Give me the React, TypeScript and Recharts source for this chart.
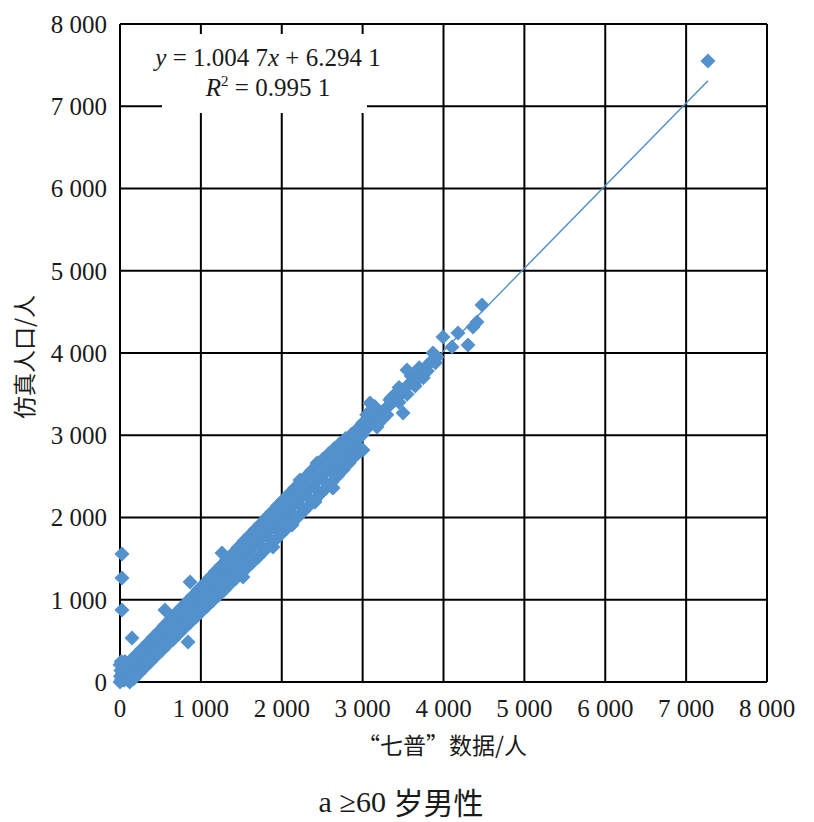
import React from 'react';
import { ScatterChart, Scatter, XAxis, YAxis, CartesianGrid } from 'recharts';

const axisTicks = [0, 1000, 2000, 3000, 4000, 5000, 6000, 7000, 8000];
const tickLabels = ['0', '1 000', '2 000', '3 000', '4 000', '5 000', '6 000', '7 000', '8 000'];

const slope = 1.0047;
const intercept = 6.2941;
const trendRange = [0, 7270];

const nearZero: [number, number][] = [
  [0, 0], [5, 70], [10, 140], [0, 210], [20, 30], [30, 100], [40, 180], [50, 20], [60, 120],
  [75, 60], [90, 150], [100, 30], [15, 250], [35, 220], [110, 90], [130, 40], [150, 170], [60, 250],
];

const centerBand: [number, number][] = [
  [150, 155], [200, 205], [250, 250], [300, 310], [350, 350], [400, 405], [450, 455], [500, 505],
  [550, 550], [600, 610], [650, 655], [700, 700], [750, 760], [800, 805], [850, 850], [900, 910],
  [950, 955], [1000, 1005], [1050, 1055], [1100, 1110], [1150, 1155], [1200, 1205], [1250, 1260],
  [1300, 1305], [1350, 1355], [1400, 1410], [1450, 1455], [1500, 1510], [1550, 1555], [1600, 1605],
  [1650, 1660], [1700, 1710], [1750, 1755], [1800, 1810], [1850, 1855], [1900, 1905], [1950, 1960],
  [2000, 2010], [2050, 2055], [2100, 2110], [2150, 2160], [2200, 2210], [2250, 2255], [2300, 2310],
  [2350, 2360], [2400, 2410], [2450, 2455], [2500, 2510], [2550, 2560], [2600, 2610], [2650, 2655],
  [2700, 2710], [2750, 2760], [2800, 2810], [2850, 2860], [2900, 2910], [2950, 2960], [3000, 3010],
];

const upperBand: [number, number][] = [
  [60, 190], [130, 260], [200, 330], [270, 400], [340, 470], [410, 545], [480, 615], [550, 690],
  [620, 760], [690, 835], [760, 905], [830, 980], [900, 1050], [970, 1125], [1040, 1195],
  [1110, 1270], [1180, 1345], [1250, 1415], [1320, 1490], [1390, 1560], [1460, 1635], [1530, 1710],
  [1600, 1780], [1670, 1855], [1740, 1925], [1810, 2000], [1880, 2070], [1950, 2145], [2020, 2215],
  [2090, 2285], [2160, 2360], [2230, 2430], [2300, 2500], [2370, 2570], [2440, 2640], [2510, 2710],
  [2580, 2775], [2650, 2840], [2720, 2900], [2790, 2960], [2860, 3010], [2930, 3070],
];

const lowerBand: [number, number][] = [
  [120, 0], [170, 40], [240, 110], [310, 180], [380, 250], [450, 320], [520, 385], [590, 455],
  [660, 520], [730, 590], [800, 660], [870, 725], [940, 790], [1010, 860], [1080, 925], [1150, 990],
  [1220, 1055], [1290, 1120], [1360, 1190], [1430, 1255], [1500, 1320], [1570, 1390], [1640, 1455],
  [1710, 1520], [1780, 1590], [1850, 1660], [1920, 1725], [1990, 1795], [2060, 1865], [2130, 1935],
  [2200, 2005], [2270, 2075], [2340, 2145], [2410, 2215], [2480, 2290], [2550, 2360], [2620, 2430],
  [2690, 2505], [2760, 2580], [2830, 2660], [2900, 2740], [2970, 2820],
];

const upperMid: [number, number][] = [
  [300, 370], [400, 470], [500, 575], [600, 675], [700, 775], [800, 880],
  [900, 990], [1000, 1090], [1100, 1195], [1200, 1295], [1300, 1400], [1400, 1500], [1500, 1600],
  [1600, 1700], [1700, 1800], [1800, 1905], [1900, 2005], [2000, 2105], [2100, 2205], [2200, 2300],
  [2300, 2400], [2400, 2505], [2500, 2605], [2600, 2700], [2700, 2790], [2800, 2890],
];

const lowerMid: [number, number][] = [
  [350, 285], [450, 385], [550, 480], [650, 580], [750, 675], [850, 770],
  [950, 880], [1050, 975], [1150, 1070], [1250, 1165], [1350, 1260], [1450, 1355], [1550, 1450],
  [1650, 1545], [1750, 1640], [1850, 1740], [1950, 1835], [2050, 1930], [2150, 2030], [2250, 2125],
  [2350, 2225], [2450, 2320], [2550, 2420], [2650, 2520], [2750, 2620], [2850, 2720],
];

const edgeBumps: [number, number][] = [
  [1261, 1568], [2226, 2456], [2436, 2663], [2634, 2359], [2411, 2188], [2127, 1909], [1892, 1641],
  [1521, 1277], [2621, 2371], [2757, 2663], [2683, 2857],
];

const upperSegment: [number, number][] = [
  [3050, 3080], [3100, 3150], [3150, 3180], [3200, 3230], [3250, 3290], [3300, 3340], [3350, 3380],
  [3400, 3430], [3450, 3480], [3500, 3530], [3550, 3600], [3600, 3640], [3650, 3690], [3700, 3760],
  [3750, 3790], [3800, 3850], [3850, 3900],
  [3000, 3150], [3050, 3250], [3100, 3300], [3150, 3350], [3200, 3150], [3250, 3200], [3300, 3250],
  [3350, 3450], [3400, 3500], [3450, 3400], [3450, 3580], [3550, 3500], [3600, 3720], [3650, 3600],
  [3750, 3700], [3800, 3780], [3900, 3880], [3700, 3820],
  [3004, 2821], [3091, 3392], [3128, 3307], [3004, 3064], [2844, 2979], [3178, 3100], [3338, 3428],
  [3500, 3270], [3487, 3550], [3549, 3793], [3709, 3708], [3870, 4000], [3920, 3951], [3994, 4195],
  [4105, 4073], [4179, 4243], [4303, 4097], [4365, 4316], [4414, 4377], [4476, 4584],
];

const isolated: [number, number][] = [
  [25, 1556], [25, 1265], [25, 875], [148, 535], [556, 875], [866, 1216], [841, 486], [7270, 7550],
];

const allPoints = [
  ...nearZero, ...lowerBand, ...centerBand, ...upperBand, ...upperMid, ...lowerMid,
  ...edgeBumps, ...upperSegment, ...isolated,
].map(([x, y]) => ({ x, y }));

const trendPoints = trendRange.map((x) => ({ x, y: slope * x + intercept }));

const BLUE = '#5391cd';
const SERIF = 'Liberation Serif, Times New Roman, serif';
const CJK = 'Noto Sans CJK SC, Noto Sans, sans-serif';

const Diamond = (props: any) => {
  const { cx, cy } = props;
  if (cx == null || cy == null) return <g />;
  const r = 7.5;
  return <polygon points={`${cx},${cy - r} ${cx + r},${cy} ${cx},${cy + r} ${cx - r},${cy}`} fill={BLUE} />;
};

const fmt = (v: number) => tickLabels[axisTicks.indexOf(v)] ?? String(v);

const XTick = (props: any) => {
  const { x, y, payload } = props;
  return (
    <text x={x} y={y} dy="0.71em" textAnchor="middle" style={{ fontFamily: SERIF }} fontSize={25} fill="#1a1a1a">
      {fmt(payload.value)}
    </text>
  );
};

const YTick = (props: any) => {
  const { x, y, payload } = props;
  return (
    <text x={x} y={y} dy="0.35em" textAnchor="end" style={{ fontFamily: SERIF }} fontSize={25} fill="#1a1a1a">
      {fmt(payload.value)}
    </text>
  );
};

export default function App() {
  return (
    <div style={{ position: 'absolute', left: 0, top: 0, width: 814, height: 822, background: '#fff' }}>
      <ScatterChart width={814} height={822} margin={{ top: 24, right: 47, bottom: 110, left: 60 }}>
        <CartesianGrid stroke="#000" strokeWidth={2} />
        <XAxis
          type="number"
          dataKey="x"
          domain={[0, 8000]}
          ticks={axisTicks}
          interval={0}
          height={30}
          tickLine={false}
          tickSize={0}
          tickMargin={17}
          axisLine={{ stroke: '#000', strokeWidth: 2 }}
          tick={<XTick />}
        />
        <YAxis
          type="number"
          dataKey="y"
          domain={[0, 8000]}
          ticks={axisTicks}
          interval={0}
          width={60}
          tickLine={false}
          tickSize={0}
          tickMargin={13}
          axisLine={{ stroke: '#000', strokeWidth: 2 }}
          tick={<YTick />}
        />
        <Scatter data={allPoints} shape={<Diamond />} isAnimationActive={false} />
        <Scatter
          data={trendPoints}
          line={{ stroke: BLUE, strokeWidth: 1.5 }}
          lineType="joint"
          shape={() => <g />}
          isAnimationActive={false}
        />
      </ScatterChart>
      <svg
        width={814}
        height={822}
        style={{ position: 'absolute', left: 0, top: 0, pointerEvents: 'none' }}
      >
        <rect x={162} y={34} width={205} height={79} fill="#fff" />
        <text x={268} y={66} textAnchor="middle" style={{ fontFamily: SERIF }} fontSize={25} fill="#1a1a1a">
          <tspan fontStyle="italic">y</tspan>
          <tspan> = 1.004 7</tspan>
          <tspan fontStyle="italic">x</tspan>
          <tspan> + 6.294 1</tspan>
        </text>
        <text x={268} y={96} textAnchor="middle" style={{ fontFamily: SERIF }} fontSize={25} fill="#1a1a1a">
          <tspan fontStyle="italic">R</tspan>
          <tspan fontSize={15} dy={-10}>2</tspan>
          <tspan dy={10}> = 0.995 1</tspan>
        </text>
        <text
          x={23}
          y={357}
          textAnchor="middle"
          dominantBaseline="central"
          transform="rotate(-90 23 357)"
          style={{ fontFamily: CJK }}
          fontSize={23}
          fill="#1a1a1a"
        >
          仿真人口/人
        </text>
        <text x={442} y={744} textAnchor="middle" dominantBaseline="central" style={{ fontFamily: CJK }} fontSize={23} fill="#1a1a1a">
          “七普”数据/人
        </text>
        <text x={401} y={801} textAnchor="middle" dominantBaseline="central" fontSize={30} fill="#1a1a1a">
          <tspan style={{ fontFamily: SERIF }}>a ≥60 </tspan>
          <tspan style={{ fontFamily: CJK }}>岁男性</tspan>
        </text>
      </svg>
    </div>
  );
}
